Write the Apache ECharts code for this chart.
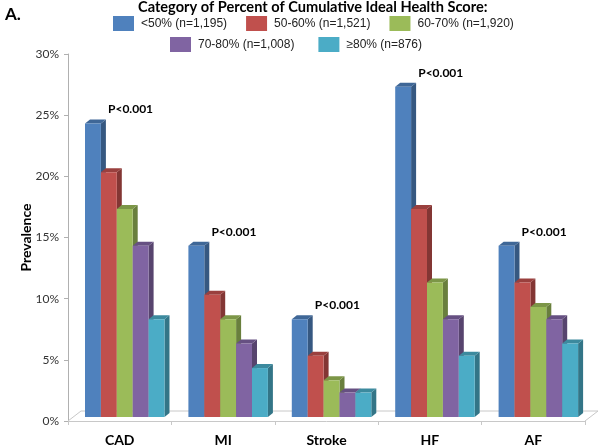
<!DOCTYPE html>
<html>
<head>
<meta charset="utf-8">
<script src="https://cdn.jsdelivr.net/npm/echarts@6/dist/echarts.min.js"></script>
<style>
html,body{margin:0;padding:0;background:#fff;}
#chart{width:600px;height:447px;}
</style>
</head>
<body>
<div id="chart"></div>
<script>
// ---- data ----
const categories = ['CAD', 'MI', 'Stroke', 'HF', 'AF'];
const seriesNames = ['<50% (n=1,195)', '50-60% (n=1,521)', '60-70% (n=1,920)', '70-80% (n=1,008)', '≥80% (n=876)'];
const lt50 = [24, 14, 8, 27, 14];
const p50to60 = [20, 10, 5, 17, 11];
const p60to70 = [17, 8, 3, 11, 9];
const p70to80 = [14, 6, 2, 8, 8];
const ge80 = [8, 4, 2, 5, 6];
const pLabels = ['P<0.001', 'P<0.001', 'P<0.001', 'P<0.001', 'P<0.001'];
const yTicks = [0, 5, 10, 15, 20, 25, 30];
const legendTitle = 'Category of Percent of Cumulative Ideal Health Score:';
const yAxisTitle = 'Prevalence';
const panelLabel = 'A.';

// ---- styling ----
const allValues = [lt50, p50to60, p60to70, p70to80, ge80];
const colors = ['#4F81BD', '#C0504D', '#9BBB59', '#8064A2', '#4BACC6'];
const FONT = 'Lato, "Open Sans", "Liberation Sans", sans-serif';
const LEG_FONT = '"Liberation Sans", Arial, sans-serif';

function shade(hex, f) {
  const n = parseInt(hex.slice(1), 16);
  let r = (n >> 16) & 255, g = (n >> 8) & 255, b = n & 255;
  r = Math.round(r * f); g = Math.round(g * f); b = Math.round(b * f);
  return 'rgb(' + r + ',' + g + ',' + b + ')';
}

const BAR_W = 15.9, DX = 5, DY = 4, LIFT = 4, GROUP_OFF = 17;

function barRender(idx) {
  return function (params, api) {
    const cat = api.value(0), v = api.value(1);
    const top = api.coord([cat, v]);
    const zero = api.coord([cat, 0]);
    const band = api.size([1, 0])[0];
    const x0 = top[0] - band / 2 + GROUP_OFF + idx * BAR_W;
    const yT = top[1] - LIFT, yB = zero[1] - LIFT;
    const w = BAR_W;
    const c = colors[idx];
    return {
      type: 'group',
      children: [
        { type: 'polygon', shape: { points: [[x0 + w, yT], [x0 + w + DX, yT - DY], [x0 + w + DX, yB - DY], [x0 + w, yB]] },
          style: { fill: shade(c, 0.68) } },
        { type: 'polygon', shape: { points: [[x0, yT], [x0 + DX, yT - DY], [x0 + w + DX, yT - DY], [x0 + w, yT]] },
          style: { fill: shade(c, 0.8) } },
        { type: 'rect', shape: { x: x0, y: yT, width: w, height: yB - yT },
          style: { fill: c } }
      ]
    };
  };
}

const series = [];
// floor (decoration)
series.push({
  type: 'custom', name: 'floor', silent: true, z: 1,
  data: [[0, 0]],
  encode: { x: 0, y: 1 },
  renderItem: function (params, api) {
    const cs = params.coordSys;
    const xL = cs.x, xR = cs.x + cs.width, yF = cs.y + cs.height;
    const fdx = 13, fdy = 10;
    return {
      type: 'polyline',
      shape: { points: [[xL, yF], [xL + fdx, yF - fdy], [xR + fdx, yF - fdy], [xR, yF]] },
      style: { stroke: '#c8c8c8', lineWidth: 1, fill: null }
    };
  }
});
allValues.forEach(function (vals, idx) {
  series.push({
    type: 'custom', name: seriesNames[idx], z: 2,
    itemStyle: { color: colors[idx] },
    data: vals.map(function (v, i) { return [i, v]; }),
    encode: { x: 0, y: 1 },
    renderItem: barRender(idx)
  });
});
// P-value labels above first series
series.push({
  type: 'custom', name: 'pvals', silent: true, z: 3,
  data: lt50.map(function (v, i) { return [i, v]; }),
  encode: { x: 0, y: 1 },
  renderItem: function (params, api) {
    const cat = api.value(0), v = api.value(1);
    const top = api.coord([cat, v]);
    const band = api.size([1, 0])[0];
    const x0 = top[0] - band / 2 + GROUP_OFF;
    return {
      type: 'text',
      x: x0 + 23, y: top[1] - LIFT - 14,
      style: { text: pLabels[params.dataIndex], font: 'bold 12px ' + FONT, fill: '#000',
               textAlign: 'left', textVerticalAlign: 'middle' }
    };
  }
});

const legendText = { fontFamily: LEG_FONT, fontSize: 12, color: '#222', padding: [0, 0, 0, 2] };

const chart = echarts.init(document.getElementById('chart'));
chart.setOption({
  animation: false,
  backgroundColor: '#fff',
  color: colors,
  grid: { left: 68, right: 15, top: 54, bottom: 26 },
  title: [
    { text: panelLabel, left: 0, top: 1, textStyle: { fontFamily: FONT, fontWeight: 'bold', fontSize: 17, color: '#000' } },
    { text: legendTitle, left: 138, top: 0, textStyle: { fontFamily: FONT, fontWeight: 'bold', fontSize: 14.6, color: '#000' }, padding: 0, itemGap: 0 }
  ],
  legend: [
    { data: seriesNames.slice(0, 3), left: 113, top: 16, icon: 'rect', itemWidth: 21, itemHeight: 15, itemGap: 19,
      padding: 0, textStyle: legendText, selectedMode: false },
    { data: seriesNames.slice(3), left: 170, top: 37, icon: 'rect', itemWidth: 21, itemHeight: 15, itemGap: 24,
      padding: 0, textStyle: legendText, selectedMode: false }
  ],
  xAxis: {
    type: 'category', data: categories, boundaryGap: true,
    axisLine: { lineStyle: { color: '#c8c8c8' } },
    axisTick: { show: true, length: 4, lineStyle: { color: '#c8c8c8' } },
    axisLabel: { fontFamily: FONT, fontWeight: 'bold', fontSize: 14, color: '#000', margin: 12 }
  },
  yAxis: {
    type: 'value', min: yTicks[0], max: yTicks[yTicks.length - 1], interval: 5,
    name: yAxisTitle, nameLocation: 'middle', nameGap: 35, nameMoveOverlap: false,
    nameTextStyle: { fontFamily: FONT, fontWeight: 'bold', fontSize: 14, color: '#000' },
    axisLine: { show: true, lineStyle: { color: '#b0b0b0' } },
    axisTick: { show: true, length: 4, lineStyle: { color: '#b0b0b0' } },
    splitLine: { show: false },
    axisLabel: { formatter: '{value}%', fontFamily: FONT, fontSize: 12, color: '#333', margin: 9 }
  },
  series: series
});
</script>
</body>
</html>
